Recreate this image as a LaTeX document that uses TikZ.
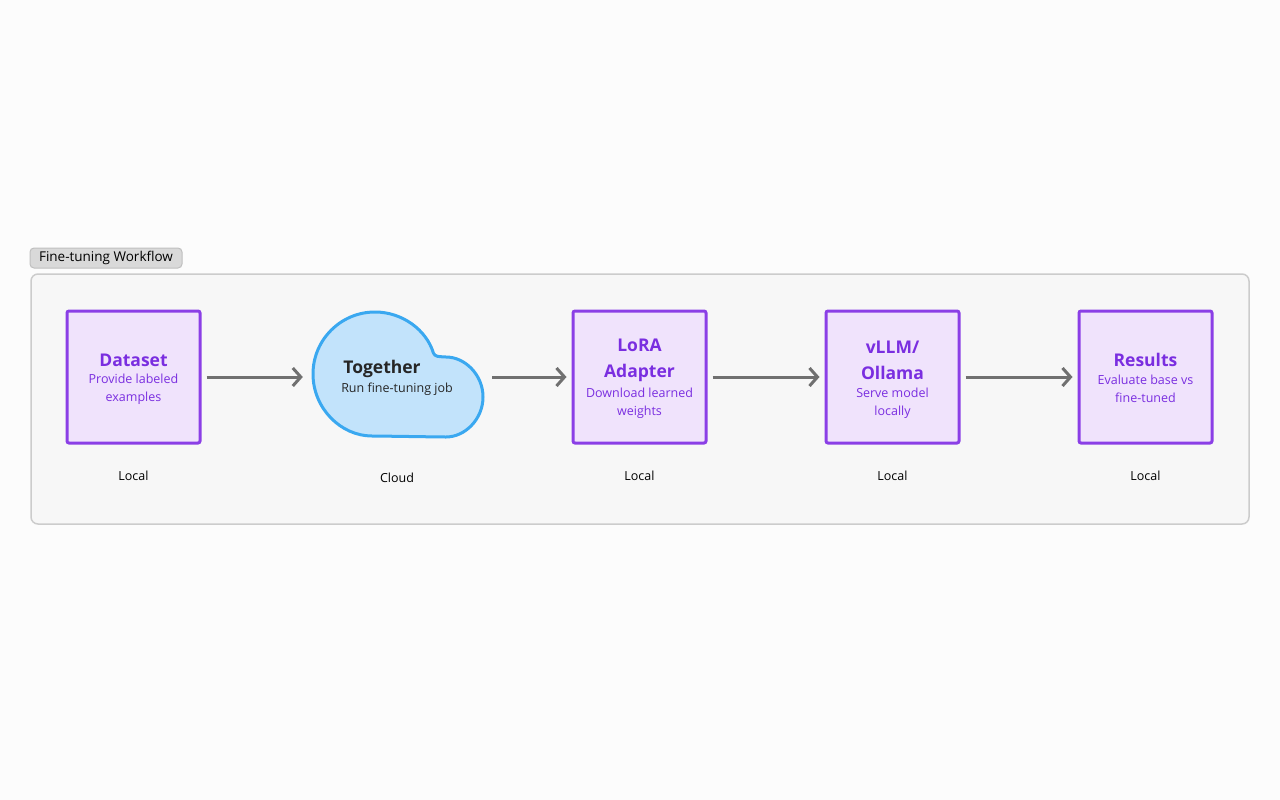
\documentclass[tikz,border=0pt]{standalone}
\usepackage{fontspec}
\setmainfont{Open Sans}
\usetikzlibrary{arrows.meta}
\definecolor{pbord}{HTML}{8B3FE6}
\definecolor{pfill}{HTML}{F0E3FC}
\definecolor{ptext}{HTML}{7A2EE0}
\definecolor{cbord}{HTML}{3AA8F0}
\definecolor{cfill}{HTML}{C2E3FB}
\definecolor{arr}{HTML}{707070}
\tikzset{
 box/.style={draw=pbord,fill=pfill,line width=3pt,rounded corners=2pt,minimum width=133pt,minimum height=132pt,inner sep=0pt},
 ttl/.style={text=ptext,font=\fontsize{17.5}{26}\selectfont\bfseries,align=center},
 sub/.style={text=ptext,font=\fontsize{12.5}{18}\selectfont,align=center},
 loc/.style={text=black,font=\fontsize{12.5}{15}\selectfont},
 flow/.style={draw=arr,line width=3pt,-{Straight Barb[length=8pt,width=18pt,line width=3pt]}}
}
\begin{document}
\begin{tikzpicture}[x=1pt,y=-1pt]
\useasboundingbox (0,0) rectangle (1280,800);
\fill[white!99!black] (0,0) rectangle (1280,800);
\node[draw=black!25,fill=black!15,rounded corners=4pt,line width=1pt,minimum width=152pt,minimum height=20pt,inner sep=0pt,font=\fontsize{13.5}{15}\selectfont] (grp) at (106,258) {Fine-tuning Workflow};
\node[draw=black!20,fill=black!3,rounded corners=7pt,line width=1.5pt,minimum width=1218pt,minimum height=250pt,inner sep=0pt] (cont) at (640,399) {};
% boxes
\node[box] (ds) at (133.5,377) {};
\node[box] (lora) at (639.5,377) {};
\node[box] (vllm) at (892.5,377) {};
\node[box] (res) at (1145.5,377) {};
% cloud
\fill[cfill,draw=cbord,line width=3pt,rounded corners=3pt] (375,436) arc[start angle=90,end angle=343,radius=62] -- (443,357) arc[start angle=270,end angle=450,radius=40] -- cycle;
\node[minimum width=171pt,minimum height=126pt,inner sep=0pt] (cloud) at (397.5,374) {};
% texts
\node[ttl] (dst) at (133.5,360) {Dataset};
\node[sub] (dss) at (133.5,389) {Provide labeled\\examples};
\node[font=\fontsize{17.5}{26}\selectfont\bfseries,text=black!85] (tt) at (382,369) {Together};
\node[font=\fontsize{12.5}{15}\selectfont,text=black!85] (ts) at (397,389) {Run fine-tuning job};
\node[ttl] (lt) at (639.5,360) {LoRA\\Adapter};
\node[sub] (ls) at (639.5,403) {Download learned\\weights};
\node[ttl] (vt) at (892.5,360) {vLLM/\\Ollama};
\node[sub] (vs) at (892.5,403) {Serve model\\locally};
\node[ttl] (rt) at (1145.5,360) {Results};
\node[sub] (rs) at (1145.5,389) {Evaluate base vs\\fine-tuned};
\node[loc] (l1) at (133.5,476) {Local};
\node[loc] (l2) at (397,478) {Cloud};
\node[loc] (l3) at (639.5,476) {Local};
\node[loc] (l4) at (892.5,476) {Local};
\node[loc] (l5) at (1145.5,476) {Local};
% arrows
\draw[flow,shorten <=5pt,shorten >=9pt] (ds.east) -- (ds.east -| cloud.west);
\draw[flow,shorten <=9pt,shorten >=5pt] (ds.east -| cloud.east) -- (lora.west);
\draw[flow,shorten <=5pt,shorten >=5pt] (lora.east) -- (vllm.west);
\draw[flow,shorten <=5pt,shorten >=5pt] (vllm.east) -- (res.west);
\end{tikzpicture}
\end{document}
